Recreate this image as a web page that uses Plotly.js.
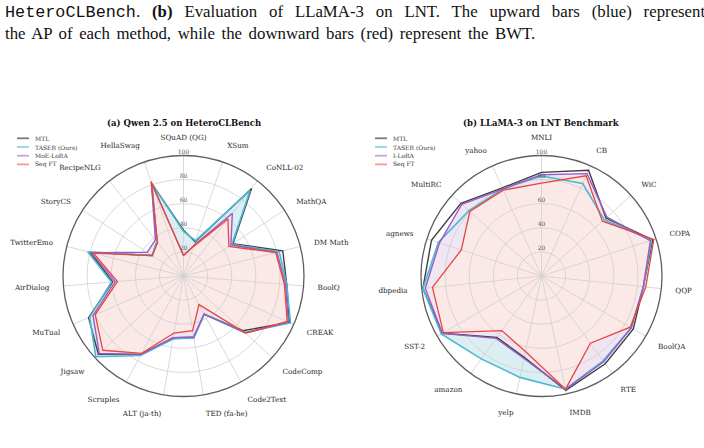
<!DOCTYPE html>
<html>
<head>
<meta charset="utf-8">
<script src="https://cdn.plot.ly/plotly-3.0.1.min.js"></script>
<style>html,body{margin:0;padding:0;background:#fff;}#chart{width:704px;height:448px;}</style>
</head>
<body>
<div id="chart"></div>
<script>
// ---------- data ----------
const captionLine1 = '<span style="font-family:Liberation Mono">HeteroCLBench</span>. <b>(b)</b> Evaluation of LLaMA-3 on LNT. The upward bars (blue) represent';
const captionLine2 = 'the AP of each method, while the downward bars (red) represent the BWT.';

const titleA = "(a) Qwen 2.5 on HeteroCLBench";
const titleB = "(b) LLaMA-3 on LNT Benchmark";

const catsA = ["SQuAD (QG)","XSum","CoNLL-02","MathQA","DM Math","BoolQ","CREAK","CodeComp","Code2Text","TED (fa-he)","ALT (ja-th)","Scruples","Jigsaw","MuTual","AirDialog","TwitterEmo","StoryCS","RecipeNLG","HellaSwag"];
const namesA = ["MTL","TASER (Ours)","MoE-LoRA","Seq FT"];
const mtlA   = [38,30,92,49,85,86,96,67,36,52,52,74,96,86,59,80,31,36,81];
const taserA = [37,31,90,48,82,86,97,69,36,52,53,75,99,85,60,82,31,36,81];
const moeA   = [17,27,66,47,80,85,95,70,36,51,52,74,95,82,57,79,36,38,82];
const seqA   = [17,26,60,45,79,84,94,70,27,46,48,73,91,80,55,77,31,35,83];

const catsB = ["MNLI","CB","WiC","COPA","QQP","BoolQA","RTE","IMDB","yelp","amazon","SST-2","dbpedia","agnews","MultiRC","yahoo"];
const namesB = ["MTL","TASER (Ours)","I-LoRA","Seq FT"];
const mtlB   = [86,96,72,97,85,88,90,97,69,63,95,99,96,90,80];
const taserB = [83,84,70,96,85,86,87,96,86,85,96,99,90,81,79];
const iloraB = [84,93,73,95,85,86,88,96,70,64,95,97,89,89,79];
const seqB   = [77,91,68,98,87,85,69,96,64,56,94,91,70,80,78];

const radialTicks = [20,40,60,80,100];
const radialTickText = ["20","40","60","80","100"];

// ---------- styles ----------
const FONT = "DejaVu Serif";
const lineColors = ['#3f3f3f','#4cb8d2','#9b5cc4','#e8463e'];
const lineWidths = [1.4,1.6,1.4,1.3];
const fillColors = [null,'#daeef4','#efe5f3','#fbe9e7'];
const legendColors = ['#7a7a7a','#8fd3e3','#c9a3e0','#f39a94'];

function closeLoop(a){ return a.concat([a[0]]); }

function buildTraces(cats, seriesList, names, subFill, subGrid, subLine){
  const traces = [];
  seriesList.forEach((vals,i)=>{
    if(!fillColors[i]) return;
    traces.push({type:'scatterpolar', subplot:subFill, mode:'lines', r:closeLoop(vals), theta:closeLoop(cats),
      fill:'toself', fillcolor:fillColors[i], line:{width:0,color:'rgba(0,0,0,0)'}, hoverinfo:'skip', showlegend:false});
  });
  traces.push({type:'scatterpolar', subplot:subGrid, mode:'lines', r:closeLoop(seriesList[0]), theta:closeLoop(cats),
    line:{width:0,color:'rgba(0,0,0,0)'}, hoverinfo:'skip', showlegend:false});
  seriesList.forEach((vals,i)=>{
    traces.push({type:'scatterpolar', subplot:subLine, mode:'lines', name:names[i], r:closeLoop(vals), theta:closeLoop(cats),
      line:{width:lineWidths[i], color:lineColors[i]}, hoverinfo:'skip', showlegend:false});
  });
  traces.push({type:'scatterpolar', subplot:subLine, mode:'text', r:radialTicks, theta:radialTicks.map(()=>cats[0]),
    text:radialTickText, textposition:'top center', textfont:{family:FONT,size:6,color:'#555'}, hoverinfo:'skip', showlegend:false, cliponaxis:false});
  return traces;
}

const data = [].concat(
  buildTraces(catsA,[mtlA,taserA,moeA,seqA],namesA,'polar','polar2','polar3'),
  buildTraces(catsB,[mtlB,taserB,iloraB,seqB],namesB,'polar4','polar5','polar6')
);

const W = 704, H = 448;
const domA = {x:[63/W,304/W], y:[1-396.5/H,1-155.5/H]};
const domB = {x:[420.8/W,662.2/W], y:[1-396.5/H,1-155.5/H]};

function hiddenPolar(dom, cats, bg){
  return {domain:dom, bgcolor:bg,
    angularaxis:{type:'category', categoryorder:'array', categoryarray:cats, rotation:90, direction:'clockwise',
      showgrid:false, showline:false, showticklabels:false, ticks:''},
    radialaxis:{range:[0,100], showgrid:false, showline:false, showticklabels:false, ticks:''}};
}
function gridPolar(dom, cats){
  return {domain:dom, bgcolor:'rgba(0,0,0,0)',
    angularaxis:{type:'category', categoryorder:'array', categoryarray:cats, rotation:90, direction:'clockwise',
      showgrid:true, gridcolor:'#cfcfcf', gridwidth:0.8, showline:true, linecolor:'#5e5e5e', linewidth:1.3,
      ticks:'outside', ticklen:12, tickcolor:'rgba(0,0,0,0)', tickfont:{family:FONT,size:7.2,color:'#262626'}},
    radialaxis:{range:[0,100], tickvals:radialTicks, showgrid:true, gridcolor:'#cfcfcf', gridwidth:0.8,
      showline:false, showticklabels:false, ticks:'', angle:90}};
}

const shapes = [], annotations = [];
function addLegend(names, x0, y0){
  names.forEach((n,i)=>{
    const y = y0 + i*8.7;
    shapes.push({type:'line', xref:'paper', yref:'paper', x0:x0/W, x1:(x0+12)/W, y0:1-y/H, y1:1-y/H,
      line:{color:legendColors[i], width:1.8}});
    annotations.push({xref:'paper', yref:'paper', x:(x0+16)/W, y:1-y/H, xanchor:'left', yanchor:'middle',
      text:n, showarrow:false, font:{family:FONT,size:6,color:'#333'}});
  });
}
addLegend(namesA, 17, 138.3);
addLegend(namesB, 375, 138.3);

annotations.push({xref:'paper', yref:'paper', x:183.5/W, y:1-122.7/H, xanchor:'center', yanchor:'middle',
  text:'<b>'+titleA+'</b>', showarrow:false, font:{family:FONT,size:8.5,color:'#111'}});
annotations.push({xref:'paper', yref:'paper', x:541.5/W, y:1-122.7/H, xanchor:'center', yanchor:'middle',
  text:'<b>'+titleB+'</b>', showarrow:false, font:{family:FONT,size:8.5,color:'#111'}});

annotations.push({xref:'paper', yref:'paper', x:3/W, y:1-12/H, xanchor:'left', yanchor:'middle',
  text:'<span style="word-spacing:7.7px">'+captionLine1+'</span>', showarrow:false, font:{family:'Liberation Serif',size:16.8,color:'#111'}});
annotations.push({xref:'paper', yref:'paper', x:3/W, y:1-34/H, xanchor:'left', yanchor:'middle',
  text:'<span style="word-spacing:2.4px">'+captionLine2+'</span>', showarrow:false, font:{family:'Liberation Serif',size:16.8,color:'#111'}});

const layout = {
  width:W, height:H, margin:{l:0,r:0,t:0,b:0}, paper_bgcolor:'#fff', showlegend:false,
  font:{family:FONT,color:'#333'},
  polar: hiddenPolar(domA,catsA,'#fff'),
  polar2: gridPolar(domA,catsA),
  polar3: hiddenPolar(domA,catsA,'rgba(0,0,0,0)'),
  polar4: hiddenPolar(domB,catsB,'#fff'),
  polar5: gridPolar(domB,catsB),
  polar6: hiddenPolar(domB,catsB,'rgba(0,0,0,0)'),
  shapes:shapes, annotations:annotations
};

Plotly.newPlot('chart', data, layout, {staticPlot:true, displayModeBar:false});
</script>
</body>
</html>
